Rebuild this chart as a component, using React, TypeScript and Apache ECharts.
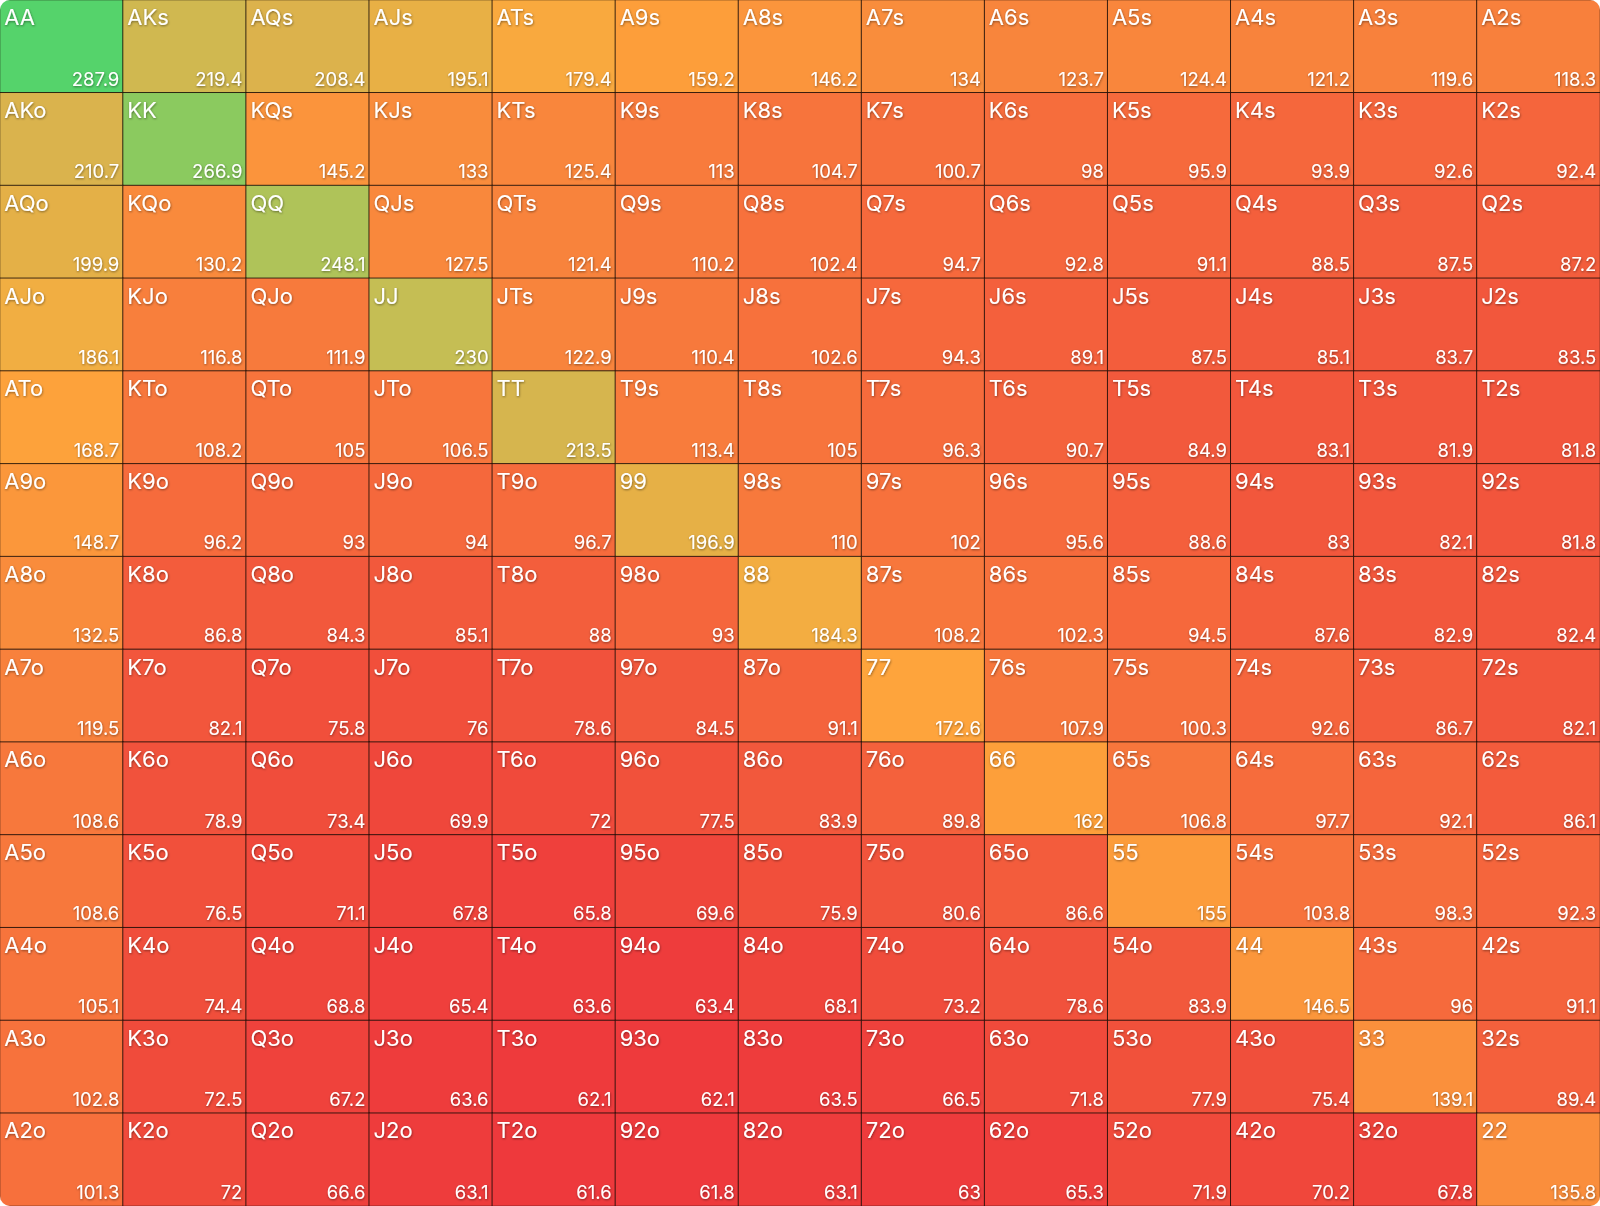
import React, { useEffect, useRef } from "react";
import * as echarts from "echarts";

const ranks = ["A", "K", "Q", "J", "T", "9", "8", "7", "6", "5", "4", "3", "2"];

const rowA = [287.9, 219.4, 208.4, 195.1, 179.4, 159.2, 146.2, 134, 123.7, 124.4, 121.2, 119.6, 118.3];
const rowK = [210.7, 266.9, 145.2, 133, 125.4, 113, 104.7, 100.7, 98, 95.9, 93.9, 92.6, 92.4];
const rowQ = [199.9, 130.2, 248.1, 127.5, 121.4, 110.2, 102.4, 94.7, 92.8, 91.1, 88.5, 87.5, 87.2];
const rowJ = [186.1, 116.8, 111.9, 230, 122.9, 110.4, 102.6, 94.3, 89.1, 87.5, 85.1, 83.7, 83.5];
const rowT = [168.7, 108.2, 105, 106.5, 213.5, 113.4, 105, 96.3, 90.7, 84.9, 83.1, 81.9, 81.8];
const row9 = [148.7, 96.2, 93, 94, 96.7, 196.9, 110, 102, 95.6, 88.6, 83, 82.1, 81.8];
const row8 = [132.5, 86.8, 84.3, 85.1, 88, 93, 184.3, 108.2, 102.3, 94.5, 87.6, 82.9, 82.4];
const row7 = [119.5, 82.1, 75.8, 76, 78.6, 84.5, 91.1, 172.6, 107.9, 100.3, 92.6, 86.7, 82.1];
const row6 = [108.6, 78.9, 73.4, 69.9, 72, 77.5, 83.9, 89.8, 162, 106.8, 97.7, 92.1, 86.1];
const row5 = [108.6, 76.5, 71.1, 67.8, 65.8, 69.6, 75.9, 80.6, 86.6, 155, 103.8, 98.3, 92.3];
const row4 = [105.1, 74.4, 68.8, 65.4, 63.6, 63.4, 68.1, 73.2, 78.6, 83.9, 146.5, 96, 91.1];
const row3 = [102.8, 72.5, 67.2, 63.6, 62.1, 62.1, 63.5, 66.5, 71.8, 77.9, 75.4, 139.1, 89.4];
const row2 = [101.3, 72, 66.6, 63.1, 61.6, 61.8, 63.1, 63, 65.3, 71.9, 70.2, 67.8, 135.8];

const rows = [rowA, rowK, rowQ, rowJ, rowT, row9, row8, row7, row6, row5, row4, row3, row2];

// colour ramp from the lowest to the highest value (evenly spaced stops)
const rampColors = [
  "#ee393c", "#f04c3b", "#f2583c", "#f66a3c", "#f7763c", "#f8803c", "#f98a3c",
  "#fa913c", "#fc9a3b", "#fda03a", "#fea53c", "#f1ae42", "#e6b046", "#dcb24c",
  "#cfb850", "#c4bf55", "#b7c258", "#a6c55b", "#8fc95e", "#72ce64", "#55d36b",
];

function handName(r: number, c: number) {
  if (r === c) return ranks[r] + ranks[c];
  const hi = Math.min(r, c);
  const lo = Math.max(r, c);
  return ranks[hi] + ranks[lo] + (c > r ? "s" : "o");
}

export default function App() {
  const ref = useRef<HTMLDivElement>(null);
  useEffect(() => {
    if (!ref.current) return;
    const chart = echarts.init(ref.current, undefined, { renderer: "svg" });
    const data: any[] = [];
    rows.forEach((row, r) => {
      row.forEach((v, c) => {
        data.push({ name: handName(r, c), value: [c, r, v] });
      });
    });
    const shadow = {
      textShadowColor: "rgba(0,0,0,0.45)",
      textShadowBlur: 2,
      textShadowOffsetX: 0.5,
      textShadowOffsetY: 1,
    };
    chart.setOption({
      animation: false,
      grid: { left: 0, right: 0, top: 0, bottom: 0 },
      xAxis: { type: "category", data: ranks, show: false },
      yAxis: { type: "category", data: ranks, inverse: true, show: false },
      visualMap: [
        {
          show: false,
          type: "continuous",
          min: 61.6,
          max: 287.9,
          dimension: 2,
          seriesIndex: 0,
          inRange: { color: rampColors },
        },
        {
          show: false,
          type: "continuous",
          min: 61.6,
          max: 287.9,
          dimension: 2,
          seriesIndex: 1,
          inRange: { color: ["rgba(0,0,0,0)", "rgba(0,0,0,0)"] },
        },
      ],
      series: [
        {
          type: "heatmap",
          data,
          itemStyle: { borderColor: "rgba(20,10,5,0.8)", borderWidth: 1 },
          label: {
            show: true,
            position: "insideTopLeft",
            distance: 5,
            offset: [0, 2],
            color: "#fff",
            fontFamily: "Inter",
            fontSize: 22,
            formatter: (p: any) => p.name,
            ...shadow,
          },
          emphasis: { disabled: true },
        },
        {
          type: "heatmap",
          data,
          itemStyle: { borderWidth: 0 },
          label: {
            show: true,
            position: "insideBottomRight",
            distance: 4,
            offset: [0, -1],
            color: "#fff",
            fontFamily: "Inter",
            fontSize: 18.5,
            formatter: (p: any) => String(p.value[2]),
            ...shadow,
          },
          emphasis: { disabled: true },
        },
      ],
    });
    return () => chart.dispose();
  }, []);
  return (
    <div
      style={{
        position: "absolute",
        left: 0,
        top: 0,
        width: 1600,
        height: 1206,
        borderRadius: 10,
        overflow: "hidden",
      }}
    >
      <div ref={ref} style={{ width: 1600, height: 1206 }} />
    </div>
  );
}
